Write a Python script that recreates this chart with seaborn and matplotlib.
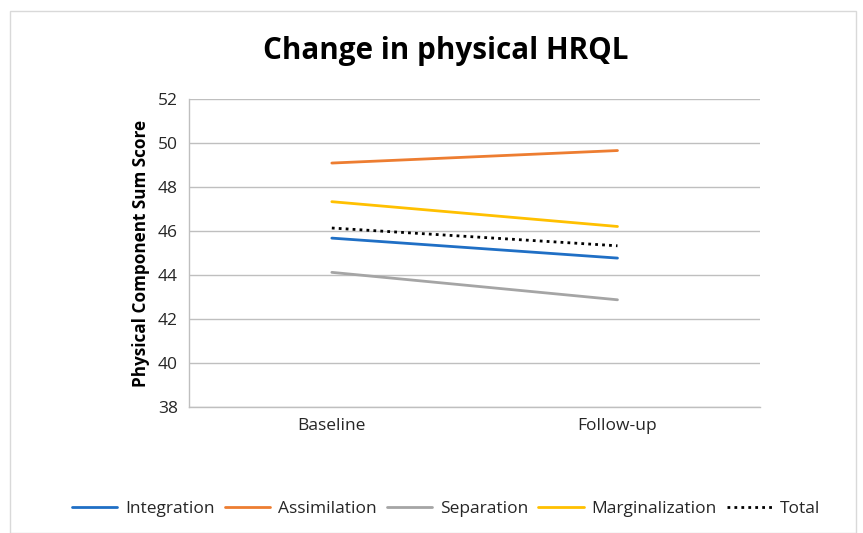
import matplotlib
matplotlib.use("Agg")
import matplotlib.pyplot as plt
import seaborn as sns
import pandas as pd
from matplotlib.patches import Rectangle
from matplotlib.lines import Line2D

timepoints = ["Baseline", "Follow-up"]
integration = [45.68, 44.77]
assimilation = [49.10, 49.67]
separation = [44.12, 42.87]
marginalization = [47.34, 46.21]
total = [46.14, 45.33]
series_names = ["Integration", "Assimilation", "Separation", "Marginalization", "Total"]
y_ticks = [38, 40, 42, 44, 46, 48, 50, 52]

rows = []
for name, vals in zip(series_names, [integration, assimilation, separation, marginalization, total]):
    for t, v in zip(timepoints, vals):
        rows.append({"Time": t, "Score": v, "Group": name})
df = pd.DataFrame(rows)

sns.set_style("white")
plt.rcParams["font.family"] = ["Open Sans", "DejaVu Sans"]

palette = {"Integration": "#1F6FC5", "Assimilation": "#ED7D31", "Separation": "#A5A5A5",
           "Marginalization": "#FFC000", "Total": "#000000"}
dashes = {"Integration": "", "Assimilation": "", "Separation": "", "Marginalization": "", "Total": (1, 1.5)}

fig = plt.figure(figsize=(8.63, 5.33), dpi=100)
ax = fig.add_axes([0.219, 0.237, 0.662, 0.5765])
sns.lineplot(data=df, x="Time", y="Score", hue="Group", style="Group", palette=palette,
             dashes=dashes, hue_order=series_names, style_order=series_names,
             linewidth=2.0, sort=False, ax=ax, legend=False)

ax.set_xlim(-0.5, 1.5)
ax.set_ylim(38, 52)
ax.set_yticks(y_ticks)
ax.set_xticks([0, 1])
ax.set_xticklabels(timepoints)
ax.grid(axis="y", color="#BFBFBF", linewidth=1.0)
ax.set_axisbelow(True)
for s in ["top", "right"]:
    ax.spines[s].set_visible(False)
for s in ["left", "bottom"]:
    ax.spines[s].set_color("#BFBFBF")
    ax.spines[s].set_linewidth(1.0)
ax.tick_params(axis="both", length=0, labelsize=12.5, colors="#262626", pad=8)
ax.set_xlabel("")
ax.set_ylabel("Physical Component Sum Score", fontsize=12.3, fontweight="bold", color="#000000", labelpad=6)

fig.text(0.516, 0.905, "Change in physical HRQL", ha="center", va="center",
         fontsize=21.3, fontweight="bold", color="#000000")

handles = []
for name in series_names:
    if name == "Total":
        handles.append(Line2D([0], [0], color=palette[name], linewidth=2, linestyle=(0, (1, 1.5))))
    else:
        handles.append(Line2D([0], [0], color=palette[name], linewidth=2))
fig.legend(handles, series_names, loc="center", bbox_to_anchor=(0.517, 0.045), ncol=5,
           frameon=False, fontsize=12.5, handlelength=2.6, columnspacing=0.6, handletextpad=0.45,
           labelcolor="#262626")

fig.patches.append(Rectangle((0.012, 0.0), 0.98, 0.98, transform=fig.transFigure,
                             fill=False, edgecolor="#D9D9D9", linewidth=1.0))

fig.savefig("out.png", dpi=100)
